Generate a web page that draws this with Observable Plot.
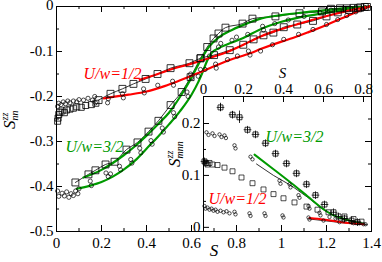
<!DOCTYPE html>
<html><head><meta charset="utf-8">
<script src="https://cdn.jsdelivr.net/npm/d3@7"></script>
<script src="https://cdn.jsdelivr.net/npm/@observablehq/plot@0.6"></script>
<style>
body{margin:0;background:#fff}
#wrap{position:relative;width:382px;height:262px}
#wrap svg{position:absolute}
#wrap svg, #wrap svg text, #wrap svg tspan{font-family:"Liberation Serif","DejaVu Serif",serif !important}
</style></head><body><div id="wrap"></div>
<script>
// ---------- tick labels ----------
const mainXTicks = [0,0.2,0.4,0.6,0.8,1,1.2,1.4];
const mainXMinor = [0.1,0.3,0.5,0.7,0.9,1.1,1.3];
const mainYTicks = [0,-0.1,-0.2,-0.3,-0.4,-0.5];
const mainYMinor = [-0.05,-0.15,-0.25,-0.35,-0.45];
const insetXTicks = [0,0.2,0.4,0.6,0.8];
const insetXMinor = [0.1,0.3,0.5,0.7];
const insetYTicks = [0,0.1,0.2];
const insetYMinor = [0.05,0.15];

// ---------- main panel: curves ----------
const g1Line = [[0.12,-0.38],[0.2,-0.363],[0.3,-0.33],[0.35,-0.31],[0.4,-0.287],[0.45,-0.262],[0.5,-0.236],[0.55,-0.2],[0.6,-0.158],[0.64,-0.12],[0.68,-0.088],[0.72,-0.069],[0.78,-0.052],[0.85,-0.037],[0.9,-0.028],[1.0,-0.019],[1.1,-0.013],[1.2,-0.008],[1.3,-0.003],[1.39,0]];
const g2Line = [[0.09,-0.405],[0.15,-0.398],[0.2,-0.39],[0.25,-0.378],[0.3,-0.362],[0.35,-0.342],[0.4,-0.316],[0.45,-0.29],[0.5,-0.262],[0.55,-0.232],[0.6,-0.196],[0.63,-0.168],[0.65,-0.145],[0.67,-0.12],[0.69,-0.103],[0.72,-0.093],[0.76,-0.084],[0.83,-0.07],[0.9,-0.052],[1.0,-0.034],[1.08,-0.024],[1.2,-0.014],[1.3,-0.006],[1.39,0]];
const r1Line = [[0.37,-0.163],[0.45,-0.15],[0.5,-0.141],[0.6,-0.127],[0.67,-0.116],[0.77,-0.099],[0.86,-0.078],[0.91,-0.066],[1.0,-0.05],[1.08,-0.038],[1.18,-0.024],[1.26,-0.014],[1.33,-0.006],[1.39,0]];
const r2Line = [[0.21,-0.204],[0.32,-0.196],[0.4,-0.189],[0.48,-0.177],[0.55,-0.164],[0.63,-0.148],[0.7,-0.133],[0.77,-0.119],[0.86,-0.104],[0.91,-0.094],[1.0,-0.078],[1.05,-0.07],[1.12,-0.057],[1.2,-0.041],[1.26,-0.028],[1.32,-0.015],[1.39,0]];

// ---------- main panel: symbols ----------
const g1Sq = [[0.084,-0.391],[0.142,-0.373],[0.173,-0.364],[0.218,-0.351],[0.258,-0.345],[0.311,-0.318],[0.36,-0.302],[0.409,-0.278],[0.453,-0.254],[0.507,-0.219],[0.556,-0.19],[0.596,-0.157],[0.64,-0.115],[0.67,-0.09],[0.698,-0.071],[0.72,-0.06],[0.751,-0.047],[0.827,-0.038],[0.871,-0.027],[0.973,-0.022],[1.08,-0.015],[1.18,-0.011],[1.22,-0.005],[1.26,-0.004],[1.29,-0.004],[1.32,-0.003],[1.35,-0.002],[1.37,-0.001]];
const r1Sq = [[0.187,-0.208],[0.24,-0.194],[0.293,-0.183],[0.342,-0.172],[0.396,-0.161],[0.449,-0.15],[0.507,-0.137],[0.591,-0.126],[0.64,-0.115],[0.7,-0.108],[0.77,-0.097],[0.83,-0.085],[0.876,-0.073],[0.92,-0.064],[0.964,-0.058],[1.01,-0.046],[1.07,-0.04],[1.14,-0.032],[1.2,-0.022],[1.25,-0.013],[1.3,-0.008],[1.34,-0.004],[1.38,-0.001]];
const redLowSq = [[0.005,-0.255],[0.007,-0.248],[0.01,-0.24],[0.015,-0.235],[0.025,-0.232],[0.035,-0.236],[0.045,-0.23],[0.06,-0.228],[0.075,-0.226],[0.09,-0.223],[0.11,-0.224],[0.13,-0.22],[0.155,-0.218],[0.175,-0.215]];
const redLowCi = [[0.005,-0.222],[0.01,-0.215],[0.02,-0.218],[0.03,-0.212],[0.04,-0.216],[0.05,-0.21],[0.06,-0.214],[0.075,-0.21],[0.09,-0.212],[0.1,-0.207],[0.12,-0.208],[0.14,-0.204],[0.16,-0.208],[0.17,-0.2]];
const r2Ci = [[0.173,-0.214],[0.227,-0.214],[0.23,-0.205],[0.293,-0.194],[0.297,-0.203],[0.387,-0.183],[0.39,-0.192],[0.45,-0.175],[0.516,-0.166],[0.52,-0.175],[0.596,-0.15],[0.6,-0.158],[0.66,-0.14],[0.707,-0.128],[0.71,-0.137],[0.76,-0.118],[0.804,-0.11],[0.853,-0.099],[0.86,-0.108],[0.907,-0.099],[0.96,-0.085],[1.01,-0.073],[1.076,-0.062],[1.14,-0.051],[1.2,-0.04],[1.25,-0.029],[1.29,-0.02],[1.33,-0.012],[1.36,-0.006]];
const g2Ci = [[0.005,-0.41],[0.01,-0.422],[0.025,-0.415],[0.035,-0.421],[0.045,-0.412],[0.055,-0.424],[0.065,-0.416],[0.075,-0.42],[0.085,-0.41],[0.095,-0.416],[0.1,-0.405],[0.15,-0.388],[0.155,-0.398],[0.22,-0.37],[0.23,-0.378],[0.24,-0.372],[0.28,-0.355],[0.285,-0.363],[0.33,-0.34],[0.335,-0.348],[0.37,-0.315],[0.375,-0.325],[0.42,-0.298],[0.425,-0.306],[0.47,-0.27],[0.475,-0.279],[0.52,-0.236],[0.525,-0.245],[0.58,-0.19],[0.585,-0.2],[0.63,-0.155],[0.64,-0.14],[0.68,-0.11],[0.72,-0.09],[0.73,-0.082],[0.78,-0.075],[0.8,-0.068],[0.85,-0.062],[0.916,-0.044],[0.92,-0.052],[0.97,-0.038],[1.03,-0.03],[1.1,-0.022],[1.17,-0.013],[1.22,-0.008],[1.28,-0.005],[1.33,-0.003],[1.37,-0.002]];

// ---------- inset panel ----------
const inGreenLine = [[0.255,0.14],[0.35,0.112],[0.44,0.085],[0.52,0.06],[0.6,0.035],[0.64,0.025],[0.68,0.019],[0.74,0.012],[0.8,0.007]];
const inGreenFit = [[0.265,0.122],[0.35,0.1],[0.44,0.08],[0.52,0.058],[0.6,0.034],[0.68,0.018],[0.8,0.007]];
const inRedLine = [[0.53,0.018],[0.6,0.015],[0.69,0.01],[0.8,0.006]];
const inRedFit = [[0.53,0.016],[0.6,0.013],[0.69,0.009],[0.82,0.005]];
const inSqErr = [[0.005,0.127,0.003],[0.012,0.124,0.003],[0.085,0.231,0.008],[0.145,0.217,0.006],[0.18,0.212,0.012],[0.22,0.188,0.003],[0.26,0.179,0.003],[0.31,0.162,0.003],[0.36,0.142,0.005],[0.415,0.123,0.004],[0.465,0.104,0.003],[0.515,0.083,0.003],[0.56,0.062,0.002],[0.605,0.044,0.002],[0.65,0.029,0.002],[0.675,0.021,0.002],[0.705,0.017,0.002],[0.74,0.013,0.002],[0.77,0.01,0.002]];
const inSq = [[0.02,0.121],[0.03,0.124],[0.045,0.121],[0.07,0.12],[0.105,0.115],[0.145,0.108],[0.19,0.096],[0.245,0.085],[0.3,0.073],[0.35,0.064],[0.4,0.056],[0.455,0.048],[0.515,0.04],[0.57,0.034],[0.625,0.029],[0.705,0.021],[0.75,0.016],[0.79,0.011]];
const inCiUp = [[0.015,0.183],[0.025,0.178],[0.045,0.181],[0.055,0.176],[0.08,0.179],[0.09,0.174],[0.105,0.177],[0.112,0.172],[0.155,0.158],[0.16,0.152],[0.235,0.136],[0.245,0.131],[0.38,0.09],[0.385,0.084],[0.43,0.083],[0.435,0.077],[0.475,0.062],[0.48,0.057],[0.525,0.041],[0.53,0.036],[0.58,0.028],[0.585,0.023],[0.63,0.02],[0.66,0.017],[0.7,0.013],[0.74,0.01],[0.78,0.008],[0.81,0.006]];
const inCiLow = [[0.005,0.041],[0.01,0.036],[0.02,0.038],[0.03,0.034],[0.04,0.036],[0.05,0.032],[0.06,0.034],[0.07,0.03],[0.085,0.032],[0.1,0.029],[0.115,0.031],[0.13,0.027],[0.155,0.03],[0.16,0.025],[0.23,0.027],[0.235,0.022],[0.305,0.027],[0.31,0.022],[0.395,0.023],[0.4,0.019],[0.525,0.019],[0.53,0.015],[0.6,0.013],[0.68,0.01],[0.75,0.008],[0.8,0.006]];

// ---------- annotation labels ----------
const mainLabels = [{x:0.12,y:-0.15,text:"U/w=1/2",c:"red"},{x:0.04,y:-0.311,text:"U/w=3/2",c:"green"}];
const insetLabels = [{x:0.31,y:0.174,text:"U/w=3/2",c:"green"},{x:0.025,y:0.054,text:"U/w=1/2",c:"red"}];

// ---------- styling ----------
const RED = "#ff0000", GREEN = "#009a00";
const FONT = "Liberation Serif, DejaVu Serif, serif";
const fmt = d => String(d);
const X = d => d[0], Y = d => d[1];

function ticksX(vals, len, side, innerH) {
  const o = {x: d => d, stroke: "black", strokeWidth: 1};
  o[side === "bottom" ? "insetTop" : "insetBottom"] = innerH - len;
  return Plot.tickX(vals, o);
}
function ticksY(vals, len, side, innerW) {
  const o = {y: d => d, stroke: "black", strokeWidth: 1};
  o[side === "left" ? "insetRight" : "insetLeft"] = innerW - len;
  return Plot.tickY(vals, o);
}
function labelMarks(arr) {
  return arr.map(l => Plot.text([l], {x: "x", y: "y", text: "text", fill: l.c === "red" ? RED : GREEN,
    textAnchor: "start", fontStyle: "italic", fontSize: 16}));
}

// ---------- main plot ----------
const W = 382, H = 262, mL = 56, mR = 11, mT = 6, mB = 31;
const iW = W - mL - mR, iH = H - mT - mB;
const main = Plot.plot({
  width: W, height: H, marginLeft: mL, marginRight: mR, marginTop: mT, marginBottom: mB,
  style: {fontFamily: FONT, fontSize: "15px", background: "white", overflow: "visible"},
  x: {domain: [0, 1.4], axis: "bottom", ticks: mainXTicks, tickSize: 0, tickPadding: 6, tickFormat: fmt, label: null},
  y: {domain: [-0.5, 0], axis: "left", ticks: mainYTicks, tickSize: 0, tickPadding: 3, tickFormat: fmt, label: null},
  marks: [
    Plot.frame({stroke: "black", strokeWidth: 1}),
    ticksX(mainXTicks, 6, "bottom", iH), ticksX(mainXMinor, 3, "bottom", iH),
    ticksX(mainXTicks, 6, "top", iH), ticksX(mainXMinor, 3, "top", iH),
    ticksY(mainYTicks, 6, "left", iW), ticksY(mainYMinor, 3, "left", iW),
    ticksY(mainYTicks, 6, "right", iW), ticksY(mainYMinor, 3, "right", iW),
    Plot.line(g1Sq, {x: X, y: Y, stroke: "black", strokeWidth: 0.8, curve: "monotone-x"}),
    Plot.line(r1Sq, {x: X, y: Y, stroke: "black", strokeWidth: 0.8, curve: "monotone-x"}),
    Plot.line(g1Line, {x: X, y: Y, stroke: GREEN, strokeWidth: 2.2, curve: "monotone-x"}),
    Plot.line(g2Line, {x: X, y: Y, stroke: GREEN, strokeWidth: 2.2, curve: "monotone-x"}),
    Plot.line(r1Line, {x: X, y: Y, stroke: RED, strokeWidth: 2.2, curve: "monotone-x"}),
    Plot.line(r2Line, {x: X, y: Y, stroke: RED, strokeWidth: 2.2, curve: "monotone-x"}),
    Plot.dot(g2Ci, {x: X, y: Y, r: 2.1, stroke: "black", strokeWidth: 0.7, fill: "none"}),
    Plot.dot(r2Ci, {x: X, y: Y, r: 2.1, stroke: "black", strokeWidth: 0.7, fill: "none"}),
    Plot.dot(redLowCi, {x: X, y: Y, r: 2.1, stroke: "black", strokeWidth: 0.7, fill: "none"}),
    Plot.dot(g1Sq, {x: X, y: Y, r: 3.9, symbol: "square", stroke: "black", strokeWidth: 0.8, fill: "none"}),
    Plot.dot(r1Sq, {x: X, y: Y, r: 3.9, symbol: "square", stroke: "black", strokeWidth: 0.8, fill: "none"}),
    Plot.dot(redLowSq, {x: X, y: Y, r: 3.4, symbol: "square", stroke: "black", strokeWidth: 0.8, fill: "none"}),
    ...labelMarks(mainLabels),
    Plot.text(["S"], {text: d => d, frameAnchor: "bottom", dy: 24, fontStyle: "italic", fontSize: 17})
  ]
});
main.style.left = "0px"; main.style.top = "0px";

// nudge the top "0" y tick label down a little so it sits inside the picture, as in the reference
d3.select(main).selectAll("text").each(function() {
  const anchorEl = this.closest("[text-anchor]");
  if (this.textContent === "0" && anchorEl && anchorEl.getAttribute("text-anchor") === "end") {
    const y0 = parseFloat(this.getAttribute("y")) || 0;
    d3.select(this).attr("y", y0 + 3);
  }
});

// ---------- inset plot ----------
const IW = 222, IH = 206, imL = 43, imR = 11, imT = 40, imB = 31;
const iiW = IW - imL - imR, iiH = IH - imT - imB;
const inset = Plot.plot({
  width: IW, height: IH, marginLeft: imL, marginRight: imR, marginTop: imT, marginBottom: imB,
  style: {fontFamily: FONT, fontSize: "15px", background: "transparent", overflow: "visible"},
  x: {domain: [0, 0.84], axis: "top", ticks: insetXTicks, tickSize: 0, tickPadding: 3, tickFormat: fmt, label: null},
  y: {domain: [-0.008, 0.252], axis: "left", ticks: insetYTicks, tickSize: 0, tickPadding: 3, tickFormat: fmt, label: null},
  marks: [
    Plot.frame({stroke: "black", strokeWidth: 1}),
    ticksX(insetXTicks, 6, "top", iiH), ticksX(insetXMinor, 3, "top", iiH),
    ticksY(insetYTicks, 6, "left", iiW), ticksY(insetYMinor, 3, "left", iiW),
    Plot.line(inGreenFit, {x: X, y: Y, stroke: "black", strokeWidth: 0.8}),
    Plot.line(inRedFit, {x: X, y: Y, stroke: "black", strokeWidth: 0.8}),
    Plot.line(inGreenLine, {x: X, y: Y, stroke: GREEN, strokeWidth: 2, curve: "monotone-x"}),
    Plot.line(inRedLine, {x: X, y: Y, stroke: RED, strokeWidth: 2, curve: "monotone-x"}),
    Plot.ruleX(inSqErr, {x: X, y1: d => d[1] - d[2], y2: d => d[1] + d[2], stroke: "black", strokeWidth: 0.8}),
    Plot.dot(inSqErr, {x: X, y: Y, r: 2.8, symbol: "square", stroke: "black", strokeWidth: 0.8, fill: "none"}),
    Plot.dot(inSqErr, {x: X, y: Y, r: 2.6, symbol: "plus", stroke: "black", strokeWidth: 0.8, fill: "none"}),
    Plot.dot(inSq, {x: X, y: Y, r: 2.8, symbol: "square", stroke: "black", strokeWidth: 0.7, fill: "none"}),
    Plot.dot(inCiUp, {x: X, y: Y, r: 1.7, stroke: "black", strokeWidth: 0.7, fill: "none"}),
    Plot.dot(inCiLow, {x: X, y: Y, r: 1.7, stroke: "black", strokeWidth: 0.7, fill: "none"}),
    ...labelMarks(insetLabels),
    Plot.text(["S"], {text: d => d, frameAnchor: "top", dx: -5, dy: -29, fontStyle: "italic", fontSize: 15})
  ]
});
inset.style.left = "160px"; inset.style.top = "56px";

// ---------- rotated y labels with sub/superscripts ----------
function yLabel(svg, x, y, sub) {
  const t = d3.select(svg).append("text")
    .attr("transform", `translate(${x},${y}) rotate(-90)`)
    .attr("text-anchor", "start").attr("font-family", FONT)
    .attr("font-style", "italic").attr("fill", "black");
  t.append("tspan").attr("font-size", 17).text("S");
  t.append("tspan").attr("font-size", 10).attr("dy", -7).text("zz");
  t.append("tspan").attr("font-size", 10).attr("dx", -7.8).attr("dy", 10).text(sub);
}
yLabel(main, 15, 129, "nn");
yLabel(main, 180, 167, "mnn");

const wrap = document.getElementById("wrap");
wrap.appendChild(main);
wrap.appendChild(inset);
</script></body></html>
